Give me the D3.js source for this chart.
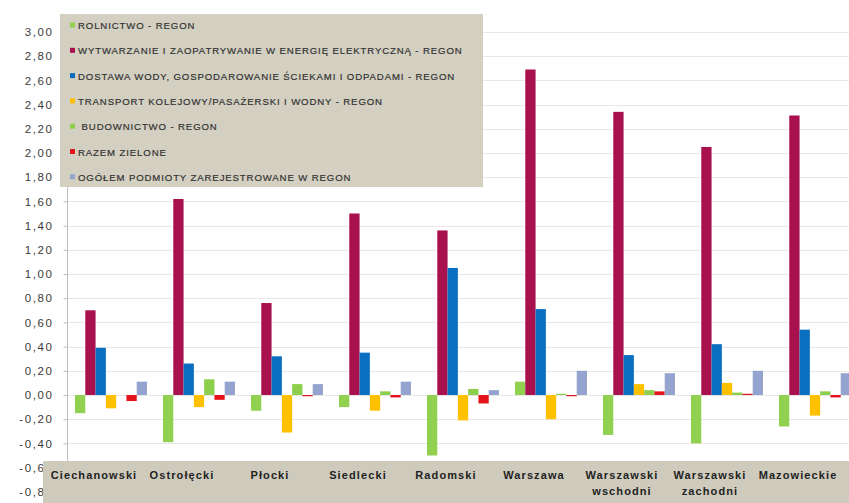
<!DOCTYPE html>
<html><head><meta charset="utf-8">
<script src="https://cdn.jsdelivr.net/npm/d3@7"></script>
<style>html,body{margin:0;padding:0;background:#fff;overflow:hidden}svg{display:block}</style>
</head><body><svg id="c" width="849" height="503"></svg>
<script>
const categories = ["Ciechanowski","Ostrołęcki","Płocki","Siedlecki","Radomski","Warszawa","Warszawski wschodni","Warszawski zachodni","Mazowieckie"];
const seriesNames = [
  "ROLNICTWO - REGON",
  "WYTWARZANIE I ZAOPATRYWANIE W ENERGIĘ ELEKTRYCZNĄ - REGON",
  "DOSTAWA WODY, GOSPODAROWANIE ŚCIEKAMI I ODPADAMI - REGON",
  "TRANSPORT KOLEJOWY/PASAŻERSKI I WODNY - REGON",
  " BUDOWNICTWO - REGON",
  "RAZEM ZIELONE",
  "OGÓŁEM PODMIOTY ZAREJESTROWANE W REGON"
];
const rolnictwo    = [-0.15,-0.39,-0.13,-0.10,-0.50, 0.11,-0.33,-0.40,-0.26];
const wytwarzanie  = [ 0.70, 1.62, 0.76, 1.50, 1.36, 2.69, 2.34, 2.05, 2.31];
const dostawa      = [ 0.39, 0.26, 0.32, 0.35, 1.05, 0.71, 0.33, 0.42, 0.54];
const transport    = [-0.11,-0.10,-0.31,-0.13,-0.21,-0.20, 0.09, 0.10,-0.17];
const budownictwo  = [ 0.00, 0.13, 0.09, 0.03, 0.05, 0.01, 0.04, 0.02, 0.03];
const razemZielone = [-0.05,-0.04,-0.01,-0.02,-0.07,-0.01, 0.03, 0.01,-0.02];
const ogolem       = [ 0.11, 0.11, 0.09, 0.11, 0.04, 0.20, 0.18, 0.20, 0.18];
const yTicks = [-0.8,-0.6,-0.4,-0.2,0,0.2,0.4,0.6,0.8,1.0,1.2,1.4,1.6,1.8,2.0,2.2,2.4,2.6,2.8,3.0];
const colors = ["#92d050","#a8104e","#0a6fc0","#ffc000","#8ccf4c","#e3141b","#95a3cf"];

const seriesValues = [rolnictwo, wytwarzanie, dostawa, transport, budownictwo, razemZielone, ogolem];
const svg = d3.select("#c");

const x = d3.scaleBand().domain(categories).range([67, 67 + 88*categories.length]).padding(0);
const xs = d3.scaleBand().domain(d3.range(seriesNames.length)).range([8, 80]).padding(0);
const y = d3.scaleLinear().domain([-0.8, 3.0]).range([491.8, 32]);

// gridlines
svg.append("g").selectAll("line").data(yTicks).join("line")
  .attr("x1", 67).attr("x2", 849)
  .attr("y1", d => Math.round(y(d)) + 0.5).attr("y2", d => Math.round(y(d)) + 0.5)
  .attr("stroke", "#e8e8e8").attr("stroke-width", 1);

// bars
const groups = svg.append("g").selectAll("g").data(categories).join("g")
  .attr("transform", c => `translate(${x(c)},0)`);
groups.selectAll("rect").data((c, i) => seriesValues.map((s, k) => ({k, v: s[i]}))).join("rect")
  .attr("x", d => xs(d.k))
  .attr("width", xs.bandwidth())
  .attr("y", d => y(Math.max(0, d.v)))
  .attr("height", d => Math.abs(y(d.v) - y(0)))
  .attr("fill", d => colors[d.k]);

// y axis
const yAxis = d3.axisLeft(y).tickValues(yTicks).tickSize(4).tickPadding(10)
  .tickFormat(d => d3.format(".2f")(d).replace(".", ",").replace("−", "-"));
const ya = svg.append("g").attr("transform", "translate(67.5,0)").call(yAxis);
ya.select(".domain").attr("stroke", "#bdbdbd").attr("d", `M-4,${y(3.0)}H0V${y(-0.8)}`);
ya.selectAll(".tick line").attr("stroke", "#bdbdbd");
ya.selectAll(".tick text").attr("fill", "#3a3a3a")
  .style("font-family", "'Liberation Sans', Arial, sans-serif")
  .style("font-size", "11.5px").style("letter-spacing", "1.6px");

// legend
const lg = svg.append("g");
lg.append("rect").attr("x", 60).attr("y", 14).attr("width", 423).attr("height", 173).attr("fill", "#d3d0c1");
const li = lg.selectAll("g.item").data(seriesNames).join("g").attr("class", "item")
  .attr("transform", (d, i) => `translate(70,${25.5 + i*25.3})`);
li.append("rect").attr("x", 0).attr("y", -3).attr("width", 5).attr("height", 5).attr("fill", (d, i) => colors[i]);
li.append("text").attr("x", 8).attr("y", 3.5).text(d => d).attr("xml:space", "preserve")
  .style("white-space", "pre")
  .attr("fill", "#333")
  .style("font-family", "'Liberation Sans', Arial, sans-serif")
  .style("font-size", "9.6px").style("letter-spacing", "0.88px")
  .attr("stroke", "#333").attr("stroke-width", 0.2);

// category band
svg.append("rect").attr("x", 43).attr("y", 461).attr("width", 806).attr("height", 42).attr("fill", "#cfcbbc");
const cl = svg.append("g").selectAll("text").data(categories).join("text")
  .attr("x", c => x(c) + x.bandwidth()/2 - 17)
  .attr("y", 479)
  .attr("text-anchor", "middle")
  .attr("fill", "#222")
  .style("font-family", "'Liberation Sans', Arial, sans-serif")
  .style("font-weight", "bold").style("font-size", "11px").style("letter-spacing", "1.1px");
cl.each(function(c) {
  const parts = c.split(" ");
  const t = d3.select(this);
  parts.forEach((p, j) => {
    t.append("tspan").attr("x", x(c) + x.bandwidth()/2 - 17).attr("dy", j === 0 ? 0 : 16).text(p);
  });
});
</script>
</body></html>
